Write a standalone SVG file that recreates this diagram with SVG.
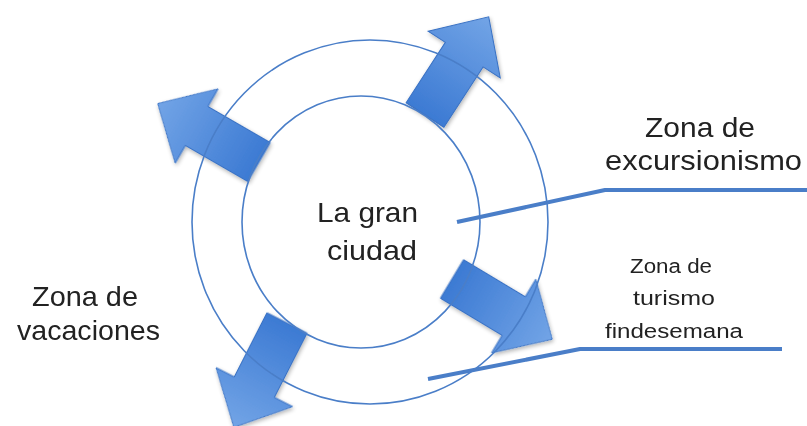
<svg xmlns="http://www.w3.org/2000/svg" width="807" height="426" viewBox="0 0 807 426">
  <defs>
    <linearGradient id="arrowFill" x1="0" y1="0" x2="1" y2="0">
      <stop offset="0" stop-color="#3c7ad3"/>
      <stop offset="1" stop-color="#72a4e6"/>
    </linearGradient>
    <path id="blockArrow" d="M0,-22.5 L72,-22.5 L72,-43 L117,0 L72,43 L72,22.5 L0,22.5 Z"/>
    <filter id="soft" x="-20%" y="-20%" width="140%" height="140%">
      <feGaussianBlur in="SourceAlpha" stdDeviation="2"/>
      <feOffset dx="1" dy="2" result="b"/>
      <feComponentTransfer><feFuncA type="linear" slope="0.3"/></feComponentTransfer>
      <feMerge><feMergeNode/><feMergeNode in="SourceGraphic"/></feMerge>
    </filter>
  </defs>
  <style>
    .ring { fill: none; stroke: #4a7ec8; stroke-width: 1.6; }
    .arrow { fill: url(#arrowFill); stroke: #3a72c4; stroke-width: 1; }
    .leader { fill: none; stroke: #4a7ec8; stroke-width: 4; stroke-linejoin: round; }
    .big { font-family: "Liberation Sans", Arial, sans-serif; font-size: 28px; fill: #222; }
    .small { font-family: "Liberation Sans", Arial, sans-serif; font-size: 20px; fill: #222; }
  </style>
  <rect width="807" height="426" fill="#ffffff"/>

  <g id="arrows" filter="url(#soft)">
    <use href="#blockArrow" class="arrow" transform="translate(425,115) rotate(-57)"/>
    <use href="#blockArrow" class="arrow" transform="translate(259,162) rotate(210)"/>
    <use href="#blockArrow" class="arrow" transform="translate(452,279) rotate(31)"/>
    <use href="#blockArrow" class="arrow" transform="translate(287,323) rotate(117)"/>
  </g>

  <g id="outer-ring">
    <ellipse class="ring" cx="370" cy="222" rx="178" ry="182"/>
  </g>
  <g id="inner-ring">
    <ellipse class="ring" cx="361" cy="222" rx="119" ry="126"/>
    <text class="big" x="317" y="222" textLength="101" lengthAdjust="spacingAndGlyphs">La gran</text>
    <text class="big" x="327" y="260" textLength="90" lengthAdjust="spacingAndGlyphs">ciudad</text>
  </g>

  <g id="connectors">
    <polyline class="leader" points="457,222 605,190 807,190"/>
    <polyline class="leader" points="428,379 580,349 782,349"/>
  </g>

  <g id="label-excursionismo">
    <text class="big" x="645" y="137" textLength="110" lengthAdjust="spacingAndGlyphs">Zona de</text>
    <text class="big" x="605" y="170" textLength="197" lengthAdjust="spacingAndGlyphs">excursionismo</text>
  </g>
  <g id="label-turismo">
    <text class="small" x="630" y="273" textLength="82" lengthAdjust="spacingAndGlyphs">Zona de</text>
    <text class="small" x="633" y="305" textLength="82" lengthAdjust="spacingAndGlyphs">turismo</text>
    <text class="small" x="605" y="338" textLength="138" lengthAdjust="spacingAndGlyphs">findesemana</text>
  </g>
  <g id="label-vacaciones">
    <text class="big" x="32" y="306" textLength="106" lengthAdjust="spacingAndGlyphs">Zona de</text>
    <text class="big" x="17" y="340" textLength="143" lengthAdjust="spacingAndGlyphs">vacaciones</text>
  </g>
</svg>
